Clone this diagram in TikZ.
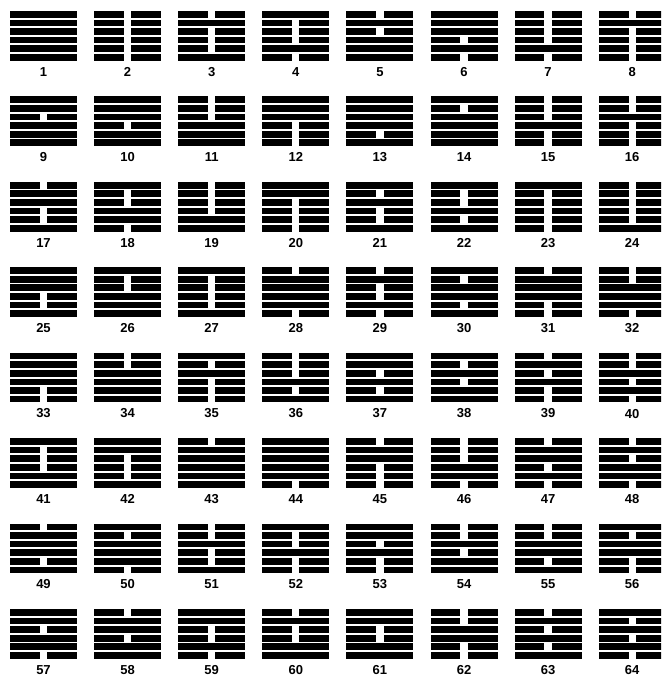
\documentclass[tikz,border=0pt]{standalone}
\usepackage{fontspec}
\setmainfont{Liberation Sans}
\begin{document}
\begin{tikzpicture}[x=1pt,y=-1pt,
  yao/.style={fill=black},
  numlabel/.style={font=\fontsize{13}{13}\selectfont\bfseries,inner sep=0pt,anchor=center}]
\useasboundingbox (0,0) rectangle (661,677);
\clip (0,0) rectangle (661,677);
\def\W{67}\def\H{6.7}\def\P{8.6}\def\S{29.85}
% lines listed bottom to top (1 = solid, 0 = broken)
\foreach \n/\a/\b/\c/\d/\e/\f [count=\i from 0] in {
 1/1/1/1/1/1/1, 2/0/0/0/0/0/0, 3/1/0/0/0/1/0, 4/0/1/0/0/0/1,
 5/1/1/1/0/1/0, 6/0/1/0/1/1/1, 7/0/1/0/0/0/0, 8/0/0/0/0/1/0,
 9/1/1/1/0/1/1, 10/1/1/0/1/1/1, 11/1/1/1/0/0/0, 12/0/0/0/1/1/1,
 13/1/0/1/1/1/1, 14/1/1/1/1/0/1, 15/0/0/1/0/0/0, 16/0/0/0/1/0/0,
 17/1/0/0/1/1/0, 18/0/1/1/0/0/1, 19/1/1/0/0/0/0, 20/0/0/0/0/1/1,
 21/1/0/0/1/0/1, 22/1/0/1/0/0/1, 23/0/0/0/0/0/1, 24/1/0/0/0/0/0,
 25/1/0/0/1/1/1, 26/1/1/1/0/0/1, 27/1/0/0/0/0/1, 28/0/1/1/1/1/0,
 29/0/1/0/0/1/0, 30/1/0/1/1/0/1, 31/0/0/1/1/1/0, 32/0/1/1/1/0/0,
 33/0/0/1/1/1/1, 34/1/1/1/1/0/0, 35/0/0/0/1/0/1, 36/1/0/1/0/0/0,
 37/1/0/1/0/1/1, 38/1/1/0/1/0/1, 39/0/0/1/0/1/0, 40/0/1/0/1/0/0,
 41/1/1/0/0/0/1, 42/1/0/0/0/1/1, 43/1/1/1/1/1/0, 44/0/1/1/1/1/1,
 45/0/0/0/1/1/0, 46/0/1/1/0/0/0, 47/0/1/0/1/1/0, 48/0/1/1/0/1/0,
 49/1/0/1/1/1/0, 50/0/1/1/1/0/1, 51/1/0/0/1/0/0, 52/0/0/1/0/0/1,
 53/0/0/1/0/1/1, 54/1/1/0/1/0/0, 55/1/0/1/1/0/0, 56/0/0/1/1/0/1,
 57/0/1/1/0/1/1, 58/1/1/0/1/1/0, 59/0/1/0/0/1/1, 60/1/1/0/0/1/0,
 61/1/1/0/0/1/1, 62/0/0/1/1/0/0, 63/1/0/1/0/1/0, 64/0/1/0/1/0/1}
{
  \pgfmathsetmacro{\cx}{10+84.1*mod(\i,8)}
  \pgfmathsetmacro{\ty}{11+85.43*int(\i/8)}
  \foreach \v [count=\k from 0] in {\f,\e,\d,\c,\b,\a} {
    \pgfmathsetmacro{\ly}{\ty+\k*\P}
    \ifnum\v=1
      \fill[yao] (\cx,\ly) rectangle ++(\W,\H);
    \else
      \fill[yao] (\cx,\ly) rectangle ++(\S,\H);
      \fill[yao] (\cx+\W-\S,\ly) rectangle ++(\S,\H);
    \fi
  }
  \node[numlabel] (l\n) at (\cx+\W/2,\ty+60.8) {\n};
}
\end{tikzpicture}
\end{document}
